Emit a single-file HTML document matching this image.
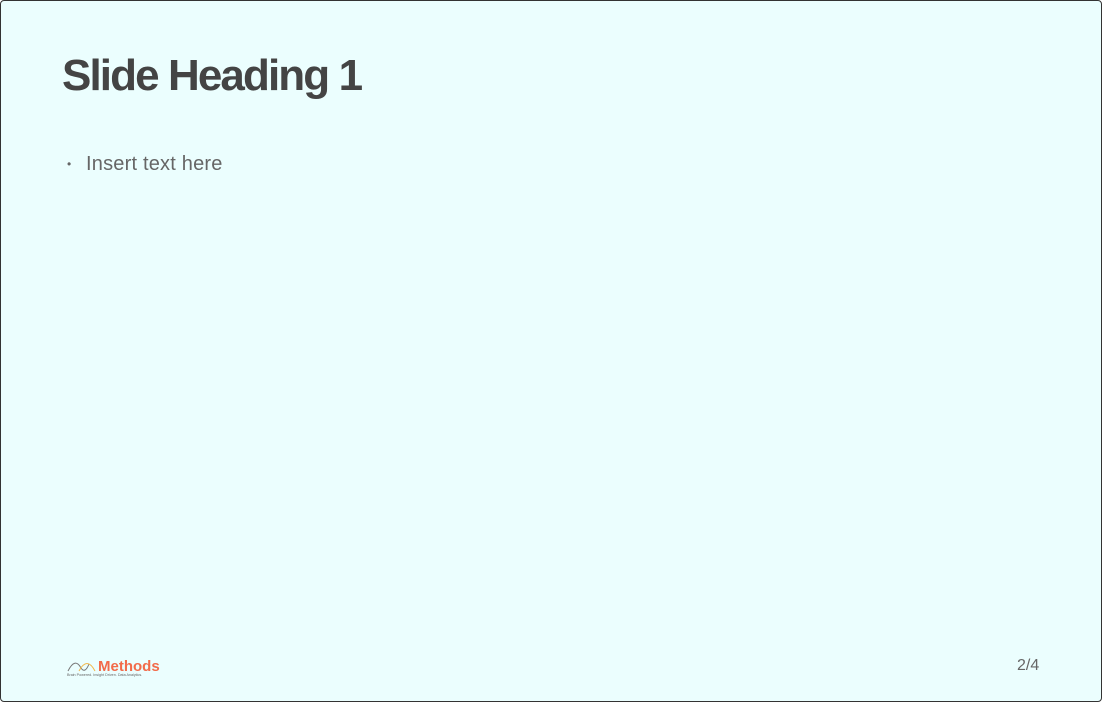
<!DOCTYPE html>
<html><head><meta charset="utf-8"><style>
html,body{margin:0;padding:0;background:#fff;}
#slide{position:absolute;left:0;top:0;width:1100px;height:700px;border:1px solid #333;border-radius:4px;background:#ebfefe;overflow:hidden;font-family:"Liberation Sans",sans-serif;}
h1{position:absolute;left:61px;top:48px;margin:0;font-size:44px;font-weight:bold;color:#444;letter-spacing:-1.9px;line-height:54px;}
.bullet{position:absolute;left:66px;top:151px;font-size:20px;color:#666;line-height:24px;letter-spacing:0.2px;}
.bullet span{display:inline-block;width:19px;font-size:12px;vertical-align:top;line-height:24px;}
.pg{position:absolute;left:1016px;top:656px;font-size:16px;color:#666;}
.logo{position:absolute;left:66px;top:655px;}
</style></head><body>
<div id="slide">
<h1>Slide Heading 1</h1>
<div class="bullet"><span>•</span>Insert text here</div>
<div class="logo">
<svg width="100" height="22" viewBox="0 0 100 22">
<path d="M1 15 Q8 1 14 12 Q18 18 22 8" fill="none" stroke="#777" stroke-width="1"/>
<path d="M12 15 Q20 0 28 15" fill="none" stroke="#f2b84b" stroke-width="1"/>
<text x="31" y="15" font-family="Liberation Sans, sans-serif" font-size="15" font-weight="bold" fill="#f26b4a">Methods</text>
<text x="0" y="20" font-family="Liberation Sans, sans-serif" font-size="3.7" fill="#666">Brain Powered.   Insight Driven.   Data Analytics.</text>
</svg></div>
<div class="pg">2/4</div>
</div>
</body></html>
